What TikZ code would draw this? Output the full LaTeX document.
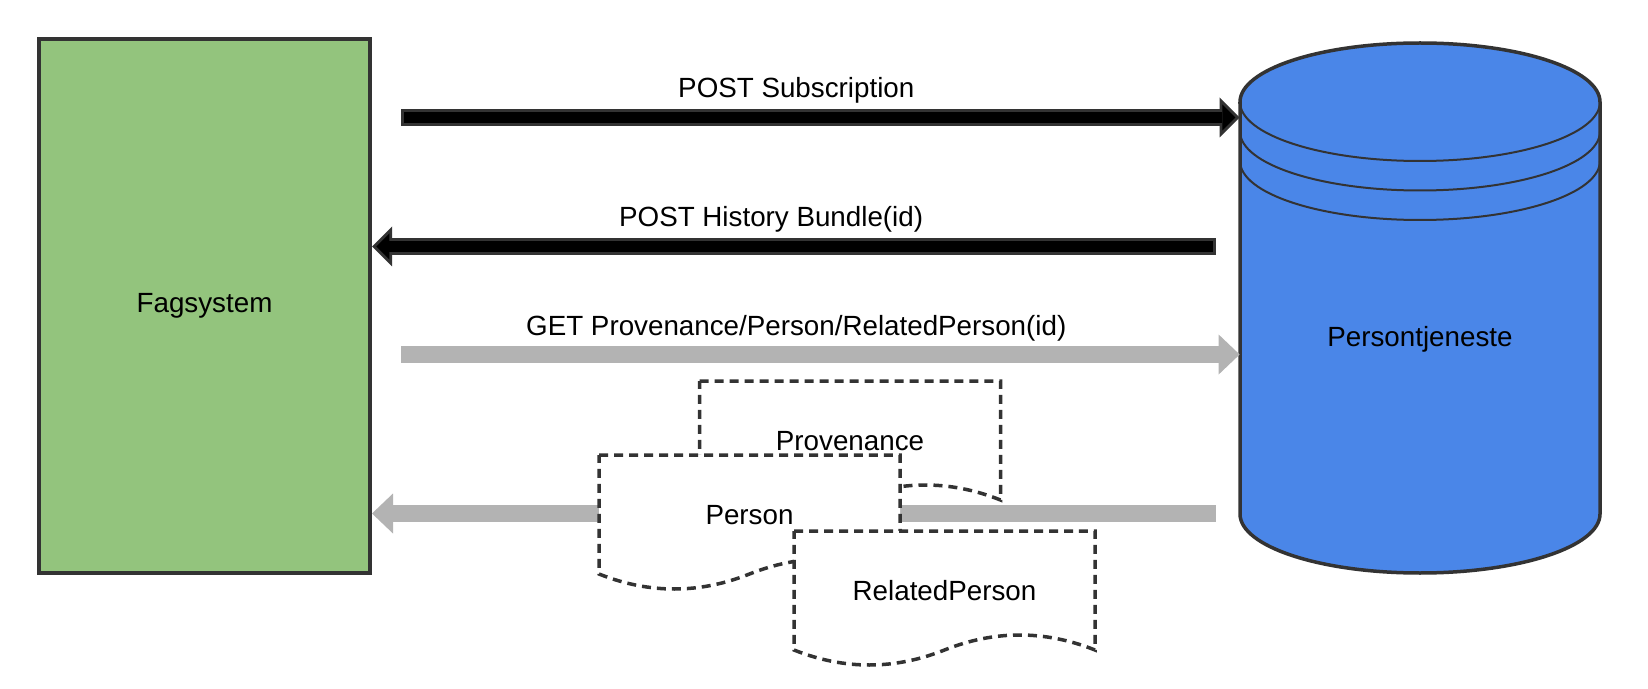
\documentclass[tikz,border=0pt]{standalone}
\usepackage{fontspec}
\setmainfont{Liberation Sans}
\usetikzlibrary{arrows.meta, calc}

\definecolor{fagfill}{HTML}{93C47D}
\definecolor{dbfill}{HTML}{4A86E8}
\definecolor{edgegray}{HTML}{333333}
\definecolor{flowgray}{HTML}{B3B3B3}

\newcommand{\diagfont}{\fontsize{15.8}{19}\selectfont}

% dashed document shape, label node drawn on top
\newcommand{\docnode}[3]{%
  \begin{scope}[shift={#2}]
    \filldraw[docline] (-3.01,1.20) -- (3.01,1.20) -- (3.01,-1.18)
      .. controls (2.007,-0.78) and (1.003,-0.78) .. (0,-1.18)
      .. controls (-1.003,-1.58) and (-2.007,-1.58) .. (-3.01,-1.18) -- cycle;
  \end{scope}
  \node[doclabel] (#1) at #2 {#3};}

\begin{document}
\begin{tikzpicture}[
    system/.style={
        rectangle, draw=edgegray, fill=fagfill, line width=0.08cm,
        minimum width=6.62cm, minimum height=10.68cm, font=\diagfont
    },
    dbtext/.style={minimum width=7.2cm, font=\diagfont},
    docline/.style={draw=edgegray, fill=white, line width=0.07cm,
        dash pattern=on 0.18cm off 0.12cm},
    doclabel/.style={font=\diagfont, inner sep=0pt},
    arrowlabel/.style={font=\diagfont, anchor=base, yshift=0.39cm, inner sep=0pt},
    blackflow/.style={
        line width=0.34cm, draw=edgegray, shorten <=#1,
        -{Triangle[length=0.4cm, width=0.8cm, line width=0pt]},
        postaction={draw=black, line width=0.22cm, shorten <={#1+0.06cm},
            shorten >=0.085cm,
            -{Triangle[length=0.26cm, width=0.52cm, line width=0pt]}}
    },
    grayflow/.style={
        line width=0.34cm, draw=flowgray, shorten <=#1,
        -{Triangle[length=0.42cm, width=0.8cm, line width=0pt]}
    }
]
\useasboundingbox (0,0) rectangle (32.96,13.76);

\node[system] (fag) at (4.09,7.64) {Fagsystem};

% database cylinder
\filldraw[fill=dbfill, draw=edgegray, line width=0.07cm]
    (24.8,11.72) -- (24.8,3.48)
    arc[start angle=180, end angle=360, x radius=3.6, y radius=1.18]
    -- (32.0,11.72)
    arc[start angle=0, end angle=180, x radius=3.6, y radius=1.18] -- cycle;
\foreach \dy in {0,0.59,1.18}
    \draw[draw=edgegray, line width=0.04cm] (24.8,11.72-\dy)
        arc[start angle=180, end angle=360, x radius=3.6, y radius=1.18];
\node[dbtext] (pers) at (28.4,6.97) {Persontjeneste};

\coordinate (row1) at (0,11.41);
\coordinate (row2) at (0,8.83);
\coordinate (row3) at (0,6.67);
\coordinate (row4) at (0,3.49);

\draw[blackflow=0.58cm] (fag.east |- row1) --
    node[arrowlabel, pos=0.489]{POST Subscription} (pers.west |- row1);
\draw[blackflow=0.48cm] (pers.west |- row2) --
    node[arrowlabel, pos=0.54]{POST History Bundle(id)} (fag.east |- row2);
\draw[grayflow=0.58cm] (fag.east |- row3) --
    node[arrowlabel, pos=0.489]{GET Provenance/Person/RelatedPerson(id)} (pers.west |- row3);

\docnode{prov}{(17.00,4.94)}{Provenance}
% returned resources
\draw[grayflow=0.48cm] (pers.west |- row4) -- (fag.east |- row4);
\docnode{person}{(14.99,3.46)}{Person}
\docnode{related}{(18.89,1.94)}{RelatedPerson}

\end{tikzpicture}
\end{document}
